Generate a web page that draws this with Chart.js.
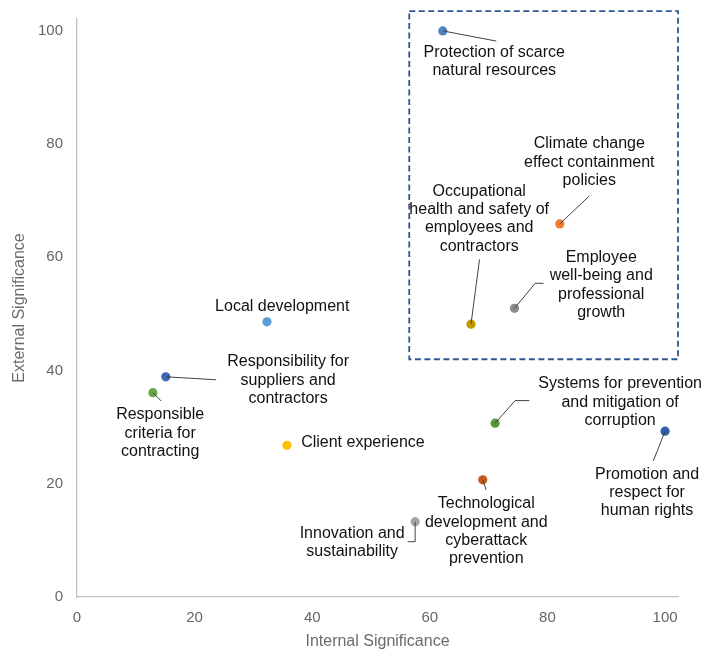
<!DOCTYPE html>
<html>
<head>
<meta charset="utf-8">
<title>Materiality matrix</title>
<script src="https://cdn.jsdelivr.net/npm/chart.js@4.4.1/dist/chart.umd.min.js"></script>
<style>
  html, body { margin: 0; padding: 0; background: #ffffff; }
  #wrap { position: relative; width: 716px; height: 657px; }
</style>
</head>
<body>
<div id="wrap"><canvas id="chart" width="716" height="657"></canvas></div>
<script>
// Material topics and their significance scores
const topics = [
  'Protection of scarce natural resources',
  'Climate change effect containment policies',
  'Occupational health and safety of employees and contractors',
  'Employee well-being and professional growth',
  'Local development',
  'Responsibility for suppliers and contractors',
  'Responsible criteria for contracting',
  'Client experience',
  'Systems for prevention and mitigation of corruption',
  'Promotion and respect for human rights',
  'Technological development and cyberattack prevention',
  'Innovation and sustainability'
];
const internalSignificance = [62.2, 82.1, 67.0, 74.4, 32.3, 15.1, 12.9, 35.7, 71.1, 100, 69.0, 57.5];
const externalSignificance = [100, 65.9, 48.2, 51.0, 48.6, 38.9, 36.1, 26.8, 30.7, 29.3, 20.7, 13.3];
const axisTicks = [0, 20, 40, 60, 80, 100];

// Marker colours, one per topic
const pointColors = [
  '#5283bd', '#ed7d31', '#c49a00', '#8c8c8c', '#5b9bd5', '#3d68b8',
  '#6aa843', '#ffc000', '#5a963a', '#2f5eab', '#c65a1e', '#a5a5a5'
];

// Wrapped label text and its placement (pixel offsets from the marker):
// dx/dy = centre of the first text line, leader = polyline from the marker
const labelLayout = [
  { lines: ['Protection of scarce', 'natural resources'], dx: 51.5, dy: 21.8, leader: [[0, 0], [53.5, 10.2]] },
  { lines: ['Climate change', 'effect containment', 'policies'], dx: 29.5, dy: -80, leader: [[0, 0], [29.5, -28]] },
  { lines: ['Occupational', 'health and safety of', 'employees and', 'contractors'], dx: 8.2, dy: -133, leader: [[0, 0], [8.5, -64.7]] },
  { lines: ['Employee', 'well-being and', 'professional', 'growth'], dx: 86.7, dy: -50.6, leader: [[0, 0], [20.7, -25], [29, -25]] },
  { lines: ['Local development'], dx: 15.3, dy: -15.7, leader: null },
  { lines: ['Responsibility for', 'suppliers and', 'contractors'], dx: 122.3, dy: -14.7, leader: [[0, 0], [50.3, 3]] },
  { lines: ['Responsible', 'criteria for', 'contracting'], dx: 7.3, dy: 22.3, leader: [[0, 0], [8.3, 8.3]] },
  { lines: ['Client experience'], dx: 76, dy: -2.9, leader: null },
  { lines: ['Systems for prevention', 'and mitigation of', 'corruption'], dx: 125, dy: -39.3, leader: [[0, 0], [20, -22.6], [34.3, -22.6]] },
  { lines: ['Promotion and', 'respect for', 'human rights'], dx: -18, dy: 43, leader: [[0, 0], [-11.7, 29.7]] },
  { lines: ['Technological', 'development and', 'cyberattack', 'prevention'], dx: 3.5, dy: 24, leader: [[0, 0], [3.3, 10]] },
  { lines: ['Innovation and', 'sustainability'], dx: -63, dy: 11.6, leader: [[0, 0], [0, 20], [-7.3, 20]] }
];

// Highlighted priority region, in axis units
const priorityBox = { xMin: 56.5, xMax: 102.2, yMin: 42.0, yMax: 103.5 };

const points = internalSignificance.map((x, i) => ({ x: x, y: externalSignificance[i] }));

const labelFont = '16px "Liberation Sans", Arial, sans-serif';
const lineHeight = 18.4;

// Dashed frame around the priority topics
const priorityFramePlugin = {
  id: 'priorityFrame',
  afterDatasetsDraw(chart) {
    const { ctx, scales: { x, y } } = chart;
    const left = x.getPixelForValue(priorityBox.xMin);
    const right = x.getPixelForValue(priorityBox.xMax);
    const top = y.getPixelForValue(priorityBox.yMax);
    const bottom = y.getPixelForValue(priorityBox.yMin);
    ctx.save();
    ctx.strokeStyle = '#2f5597';
    ctx.lineWidth = 1.8;
    ctx.setLineDash([6, 3.5]);
    ctx.strokeRect(left, top, right - left, bottom - top);
    ctx.restore();
  }
};

// Topic names with leader lines
const topicLabelPlugin = {
  id: 'topicLabels',
  afterDatasetsDraw(chart) {
    const { ctx } = chart;
    const meta = chart.getDatasetMeta(0);
    ctx.save();
    meta.data.forEach((pt, i) => {
      const spec = labelLayout[i];
      if (spec.leader) {
        ctx.beginPath();
        ctx.strokeStyle = '#404040';
        ctx.lineWidth = 1;
        spec.leader.forEach(([ox, oy], k) => {
          if (k === 0) ctx.moveTo(pt.x + ox, pt.y + oy);
          else ctx.lineTo(pt.x + ox, pt.y + oy);
        });
        ctx.stroke();
      }
      ctx.font = labelFont;
      ctx.fillStyle = '#111111';
      ctx.textAlign = 'center';
      ctx.textBaseline = 'middle';
      spec.lines.forEach((line, k) => {
        ctx.fillText(line, pt.x + spec.dx, pt.y + spec.dy + k * lineHeight);
      });
    });
    ctx.restore();
  }
};

const tickFont = { family: '"Liberation Sans", Arial, sans-serif', size: 15 };
const titleFont = { family: '"Liberation Sans", Arial, sans-serif', size: 16 };

new Chart(document.getElementById('chart'), {
  type: 'scatter',
  data: {
    datasets: [{
      label: 'Material topics',
      data: points,
      pointBackgroundColor: pointColors,
      pointBorderColor: pointColors,
      pointBorderWidth: 0,
      pointRadius: 4.6,
      pointHoverRadius: 4.6
    }]
  },
  options: {
    responsive: false,
    animation: false,
    events: [],
    layout: { padding: { top: 19, right: 38, left: 0, bottom: 0 } },
    plugins: {
      legend: { display: false },
      tooltip: { enabled: false }
    },
    scales: {
      x: {
        type: 'linear',
        min: 0,
        max: 102.2,
        afterBuildTicks(scale) { scale.ticks = axisTicks.map(v => ({ value: v })); },
        afterFit(scale) { scale.height = 60; },
        grid: { color: 'transparent', drawTicks: false },
        border: { display: true, color: '#c3c3c3', width: 1.3 },
        ticks: { color: '#666666', font: tickFont, padding: 12, maxRotation: 0 },
        title: { display: true, text: 'Internal Significance', color: '#6b6b6b', font: titleFont, padding: { top: 6, bottom: 6 } }
      },
      y: {
        type: 'linear',
        min: 0,
        max: 102.1,
        afterBuildTicks(scale) { scale.ticks = axisTicks.map(v => ({ value: v })); },
        afterFit(scale) {
          scale.width = 77;
          scale.paddingTop = 0;
          scale.paddingBottom = 0;
        },
        grid: { color: 'transparent', drawTicks: false },
        border: { display: true, color: '#c3c3c3', width: 1.3 },
        ticks: { color: '#666666', font: tickFont, padding: 14 },
        title: { display: true, text: 'External Significance', color: '#6b6b6b', font: titleFont, padding: { top: 10, bottom: 10 } }
      }
    }
  },
  plugins: [priorityFramePlugin, topicLabelPlugin]
});
</script>
</body>
</html>
